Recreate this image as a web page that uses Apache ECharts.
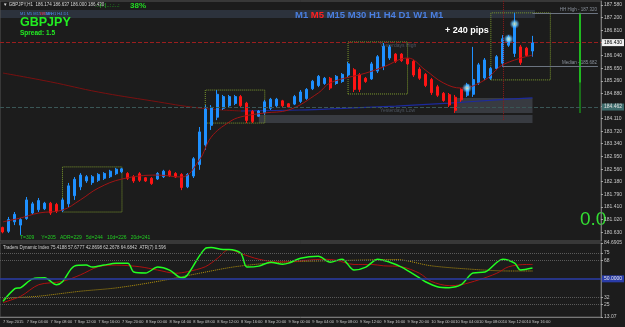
<!DOCTYPE html>
<html>
<head>
<meta charset="utf-8">
<script src="https://cdn.jsdelivr.net/npm/echarts@6/dist/echarts.min.js"></script>
<style>
  html, body { margin: 0; padding: 0; background: #1c1c1c; }
  #chart { width: 625px; height: 327px; }
</style>
</head>
<body>
<div id="chart"></div>
<script>
// GBPJPY H1, 7 Sep 00:00 .. 10 Sep 17:00
const opens = [180.78,180.66,180.95,180.85,181.05,181.22,181.32,181.35,181.52,181.48,
  181.30,181.50,181.75,182.02,182.20,182.15,182.22,182.28,182.33,182.42,
  182.48,182.43,182.33,182.42,182.30,182.28,182.26,182.33,182.50,182.43,
  182.40,182.02,182.35,182.70,183.30,183.90,184.15,184.42,184.50,184.57,
  184.78,184.58,184.33,184.18,184.28,184.42,184.50,184.65,184.56,184.55,
  184.63,184.72,185.02,185.12,185.18,185.34,185.18,185.24,185.44,185.60,
  185.45,185.34,185.32,185.56,185.70,185.96,186.08,186.08,185.94,185.86,
  185.62,185.46,185.30,185.08,184.88,184.84,184.76,185.00,184.82,184.85,
  185.20,185.35,185.34,185.64,185.80,186.35,186.10,186.30,186.26,186.174];
const highs = [180.80,181.10,181.25,181.07,181.71,181.56,181.68,181.56,181.56,181.53,
  181.68,182.14,182.32,182.44,182.38,182.38,182.44,182.47,182.54,182.60,
  182.60,182.47,182.38,182.47,182.32,182.32,182.47,182.54,182.54,182.47,
  182.44,182.44,182.93,183.85,184.52,184.52,184.98,184.83,184.83,184.83,
  184.83,184.62,184.37,184.37,184.68,184.74,184.74,184.68,184.58,184.83,
  184.98,185.04,185.29,185.44,185.38,185.38,185.44,185.50,185.84,185.65,
  185.50,185.38,185.84,186.05,186.42,186.36,186.11,186.11,185.96,185.90,
  185.68,185.50,185.35,185.14,184.92,184.89,184.83,185.04,185.20,186.30,
  185.81,185.96,185.69,186.05,186.66,186.66,187.34,186.36,186.30,186.637];
const lows = [180.60,180.61,180.85,180.55,181.01,181.16,181.25,181.31,181.16,181.22,
  181.25,181.40,181.62,181.92,182.14,182.08,182.17,182.23,182.29,182.38,
  182.44,182.23,182.14,182.17,182.17,182.08,182.23,182.29,182.32,182.29,
  181.92,181.98,182.29,182.54,183.15,183.76,184.06,184.37,184.46,184.52,
  184.46,183.97,183.97,184.16,184.22,184.37,184.46,184.46,184.43,184.52,
  184.58,184.68,184.98,185.07,185.14,184.98,185.14,185.20,185.38,184.92,
  184.92,185.20,185.29,185.50,185.59,185.90,185.81,185.84,185.75,185.38,
  185.29,185.07,184.83,184.77,184.62,184.46,184.28,184.62,184.77,184.77,
  185.14,185.29,185.29,185.59,185.69,186.30,185.99,185.75,185.99,186.000];
const closes = [180.64,181.02,181.18,181.02,181.62,181.50,181.60,181.52,181.22,181.28,
  181.62,182.05,182.25,182.38,182.33,182.33,182.40,182.43,182.50,182.56,
  182.57,182.28,182.20,182.22,182.20,182.12,182.43,182.50,182.36,182.32,
  182.00,182.40,182.88,183.70,184.40,184.45,184.85,184.78,184.78,184.78,
  184.50,184.05,184.02,184.34,184.62,184.70,184.70,184.50,184.46,184.78,
  184.92,185.00,185.25,185.40,185.34,185.04,185.40,185.46,185.78,185.00,
  185.00,185.24,185.78,186.00,186.32,186.30,185.86,185.88,185.78,185.44,
  185.34,185.12,184.90,184.82,184.66,184.52,184.36,184.68,185.14,185.30,
  185.75,185.90,185.64,186.00,186.55,186.60,186.95,185.82,186.04,186.430];

// moving averages: [bar index, price]
const maFast = [[0,180.95],[3,181.07],[6,181.22],[10,181.31],[13,181.62],[16,181.98],[20,182.26],
  [26,182.38],[30,182.32],[33,182.84],[35,183.54],[38,184.00],[40,184.16],[44,184.28],[48,184.37],
  [53,184.89],[55,185.20],[61,185.50],[64,185.69],[68,185.96],[71,185.59],[74,185.20],[77,185.04],
  [81,185.29],[84,185.75],[89,186.05]];
const maSlowDown = [[0,185.50],[8,185.23],[16,184.92],[25,184.65],[33,184.43],[40,184.34]];
const maSlowUp = [[40,184.34],[50,184.37],[58,184.43],[66,184.49],[75,184.58],[83,184.68],[89,184.74]];

// Traders Dynamic Index lines: [bar index, value]
const tdiPrice = [[0,28.2],[2,40.5],[3,41.5],[5,50],[7,51],[9,44.3],[10,47.2],[12,62.3],[14,63.3],
  [15,61.4],[17,63.3],[19,65.2],[21,65.2],[22,56.6],[24,55.7],[26,61.4],[28,58.5],[30,51],[31,53.8],
  [34,79.4],[35,80.3],[37,78.4],[38,78.4],[40,74.6],[41,61.4],[43,62.3],[45,66.1],[47,64.2],[48,65.2],
  [50,69.9],[53,71.8],[55,66.1],[57,69],[59,58.5],[61,61.4],[63,69],[65,66.1],[67,61.4],[70,51],
  [71,47.2],[73,42.4],[75,41.5],[77,44.3],[79,55.7],[81,56.6],[84,69],[86,65.2],[87,58.5],[89,60.4]];
const tdiSignal = [[0,27],[3,33.2],[6,44.3],[10,47.5],[13,53.8],[16,61.7],[19,63.3],[23,61.7],[26,58.5],
  [29,55.4],[31,56.9],[34,61.7],[36,69.6],[38,78.4],[40,74.4],[43,69],[46,66.4],[48,66.4],[51,68],
  [54,69],[56,68],[59,63.9],[62,63.9],[64,62.6],[67,61.7],[70,55.4],[72,47.5],[75,43.4],[77,44.3],
  [80,49.1],[83,55.4],[85,61.7],[88,63.9],[89,63.9]];
const tdiBase = [[0,30.5],[2,31.7],[6,33.2],[13,38],[19,41.2],[26,47.5],[33,55.4],[39,61.7],[46,65.8],
  [52,67.1],[59,68],[66,68.7],[72,62.6],[79,59.2],[85,57.6],[89,57.6]];

const priceTicks = [180.630,181.020,181.410,181.790,182.180,182.560,182.950,183.340,183.720,184.110,
  184.490,184.880,185.260,185.650,186.040,186.430,186.810,187.200,187.580];
const tdiTicks = [13.07, 25, 32, 68, 75, 84.69];
const tdiTickLabels = ['13.07', '25', '32', '68', '75', '84.6905'];
const xTickLabels = ['7 Sep 2015','7 Sep 04:00','7 Sep 08:00','7 Sep 12:00','7 Sep 16:00','7 Sep 20:00',
  '8 Sep 00:00','8 Sep 04:00','8 Sep 08:00','8 Sep 12:00','8 Sep 16:00','8 Sep 20:00',
  '9 Sep 00:00','9 Sep 04:00','9 Sep 08:00','9 Sep 12:00','9 Sep 16:00','9 Sep 20:00',
  '10 Sep 00:00','10 Sep 04:00','10 Sep 08:00','10 Sep 12:00','10 Sep 16:00'];

// hourly slots, 90 bars plus empty space on the right
const slots = 101;
const categories = [];
for (let i = 0; i < slots; i++) {
  const h = i % 24;
  categories.push((7 + Math.floor(i / 24)) + ' Sep ' + (h < 10 ? '0' : '') + h + ':00');
}
const ohlc = opens.map((o, i) => [o, closes[i], lows[i], highs[i]]);

const chart = echarts.init(document.getElementById('chart'));
const dotBox = { color: 'transparent', borderColor: '#7d9a2e', borderWidth: 1, borderType: 'dotted' };
const tiny = { fontSize: 5, color: '#c8c8c8', fontFamily: 'Liberation Sans' };

chart.setOption({
  backgroundColor: '#1c1c1c',
  animation: false,
  grid: [
    { left: 0, top: 1, width: 607, height: 240, show: true, borderColor: '#555', borderWidth: 1 },
    { left: 0, top: 243, width: 607, height: 74, show: true, borderColor: '#555', borderWidth: 1 }
  ],
  xAxis: [
    { type: 'category', gridIndex: 0, data: categories, axisLabel: { show: false },
      axisTick: { show: false }, axisLine: { show: false } },
    { type: 'category', gridIndex: 1, data: categories, position: 'bottom',
      axisLine: { lineStyle: { color: '#777' } },
      axisTick: { interval: 3, alignWithLabel: true, length: 3, lineStyle: { color: '#aaa' } },
      axisLabel: { interval: 3, align: 'left', margin: 3, fontSize: 4, color: '#c8c8c8',
        fontFamily: 'Liberation Sans', formatter: (v, idx) => xTickLabels[idx / 4] || '' } }
  ],
  yAxis: [
    { type: 'value', gridIndex: 0, position: 'right', min: 180.364, max: 187.703,
      splitLine: { show: false },
      axisLine: { show: true, lineStyle: { color: '#777' } },
      axisTick: { show: true, length: 2, customValues: priceTicks, lineStyle: { color: '#aaa' } },
      axisLabel: Object.assign({ margin: 3, customValues: priceTicks, formatter: v => v.toFixed(3) }, tiny) },
    { type: 'value', gridIndex: 1, position: 'right', min: 13.07, max: 84.69,
      splitLine: { show: false },
      axisLine: { show: true, lineStyle: { color: '#777' } },
      axisTick: { show: true, length: 2, customValues: tdiTicks, lineStyle: { color: '#aaa' } },
      axisLabel: Object.assign({ margin: 3, customValues: tdiTicks,
        formatter: v => tdiTickLabels[tdiTicks.indexOf(v)] || '' }, tiny) }
  ],
  series: [
    { // support zones and vertical markers
      type: 'line', xAxisIndex: 0, yAxisIndex: 0, data: [], z: 1,
      markArea: { silent: true, itemStyle: { color: 'rgba(80,86,96,0.55)' },
        data: [
          [{ xAxis: 43, yAxis: 183.97 }, { xAxis: 89, yAxis: 184.22 }],
          [{ xAxis: 76, yAxis: 184.28 }, { xAxis: 89, yAxis: 184.74 }]
        ] },
      markLine: { silent: true, symbol: ['none', 'none'], label: { show: false },
        data: [
          [{ coord: [84, 187.70], lineStyle: { color: '#8b1a1a', type: 'dotted', width: 1 } },
           { coord: [84, 184.06] }],
          [{ coord: [96.7, 187.34], lineStyle: { color: '#22ee22', type: 'solid', width: 1.5 } },
           { coord: [96.7, 185.20] }],
          [{ coord: [96.7, 185.20], lineStyle: { color: '#1a8a1a', type: 'solid', width: 1.5 } },
           { coord: [96.7, 184.28] }]
        ] }
    },
    {
      type: 'candlestick', xAxisIndex: 0, yAxisIndex: 0, data: ohlc, barWidth: 2.5, z: 3,
      itemStyle: { color: '#1e90ff', color0: '#ff1414', borderColor: '#1e90ff', borderColor0: '#ff1414', borderWidth: 1 },
      markArea: { silent: true, itemStyle: dotBox,
        data: [
          [{ xAxis: 10, yAxis: 181.25 }, { xAxis: 20, yAxis: 182.63 }],
          [{ xAxis: 34, yAxis: 183.97 }, { xAxis: 44, yAxis: 184.98 }],
          [{ xAxis: 58, yAxis: 184.86 }, { xAxis: 68, yAxis: 186.45 }],
          [{ xAxis: 82, yAxis: 185.29 }, { xAxis: 92, yAxis: 187.34 }]
        ] },
      markLine: { silent: true, symbol: ['none', 'none'],
        data: [
          { yAxis: 186.43, lineStyle: { color: '#9a1e1e', type: 'dashed', width: 1 },
            label: { position: 'end', distance: 1, formatter: '186.430', backgroundColor: '#f0f0f0',
              color: '#000', fontSize: 5, padding: [1, 2] } },
          { yAxis: 184.462, lineStyle: { color: '#3a5656', type: 'dashed', width: 1 },
            label: { position: 'end', distance: 1, formatter: '184.462', backgroundColor: '#3d6b6b',
              color: '#e0e0e0', fontSize: 5, padding: [1, 2] } },
          [{ coord: [89, 187.336], lineStyle: { color: '#6c7480', type: 'solid', width: 1 },
             label: { position: 'insideEndTop', formatter: 'HH High - 187.320', color: '#8a919c', fontSize: 4.5, distance: 1 } },
           { coord: [100, 187.336] }],
          [{ coord: [84, 185.716], lineStyle: { color: '#6c7480', type: 'solid', width: 1 },
             label: { position: 'insideEndTop', formatter: 'Median - 185.682', color: '#8a919c', fontSize: 4.5, distance: 1 } },
           { coord: [100, 185.716] }]
        ] }
    },
    { type: 'line', xAxisIndex: 0, yAxisIndex: 0, data: maFast, smooth: 0.4, symbol: 'none', z: 4,
      lineStyle: { color: '#a01414', width: 1 } },
    { type: 'line', xAxisIndex: 0, yAxisIndex: 0, data: maSlowDown, smooth: 0.4, symbol: 'none', z: 2,
      lineStyle: { color: '#7a1010', width: 1 } },
    { type: 'line', xAxisIndex: 0, yAxisIndex: 0, data: maSlowUp, smooth: 0.4, symbol: 'none', z: 2,
      lineStyle: { color: '#1c2a9e', width: 1.2 } },
    { type: 'scatter', xAxisIndex: 0, yAxisIndex: 0, symbolSize: 10, z: 6,
      data: [[86, 187.00], [85, 186.54], [78, 185.04]],
      itemStyle: { color: { type: 'radial', x: 0.5, y: 0.5, r: 0.5,
        colorStops: [{ offset: 0, color: '#ffffc0' }, { offset: 0.45, color: '#70d0ff' },
                     { offset: 1, color: 'rgba(60,150,255,0.05)' }] } } },
    // TDI pane
    { type: 'line', xAxisIndex: 1, yAxisIndex: 1, data: tdiBase, smooth: 0.3, symbol: 'none',
      lineStyle: { color: '#b8960c', width: 1, type: 'dotted' },
      markLine: { silent: true, symbol: ['none', 'none'],
        data: [
          { yAxis: 75, lineStyle: { color: '#5a5a5a', type: 'dotted', width: 1 }, label: { show: false } },
          { yAxis: 68, lineStyle: { color: '#5a5a5a', type: 'dotted', width: 1 }, label: { show: false } },
          { yAxis: 32, lineStyle: { color: '#5a5a5a', type: 'dotted', width: 1 }, label: { show: false } },
          { yAxis: 25, lineStyle: { color: '#5a5a5a', type: 'dotted', width: 1 }, label: { show: false } },
          { yAxis: 50, lineStyle: { color: '#2a3ca8', type: 'solid', width: 1.5 },
            label: { position: 'end', distance: 1, formatter: '50.0000', backgroundColor: '#2a3ca8',
              color: '#e8e8e8', fontSize: 5, padding: [1, 2] } }
        ] } },
    { type: 'line', xAxisIndex: 1, yAxisIndex: 1, data: tdiSignal, smooth: 0.3, symbol: 'none',
      lineStyle: { color: '#b01010', width: 1 } },
    { type: 'line', xAxisIndex: 1, yAxisIndex: 1, data: tdiPrice, smooth: 0.3, symbol: 'none',
      lineStyle: { color: '#22ff22', width: 1.5 } }
  ],
  graphic: [
    { type: 'rect', shape: { x: 0, y: 10, width: 535, height: 8 }, style: { fill: '#2c323c' }, z: -1 },
    { type: 'text', x: 3, y: 2, style: { text: '▼ GBPJPY,H1  186.174 186.637 186.000 186.430', fill: '#d8d8d8', fontSize: 4.5, fontFamily: 'Liberation Sans' } },
    { type: 'text', x: 95, y: 2, style: { text: '.:.|.:|..:.:..:', fill: '#22cc22', fontSize: 6, fontFamily: 'Liberation Sans' } },
    { type: 'text', x: 130, y: 2, style: { text: '38%', fill: '#22dd22', fontSize: 8, fontWeight: 'bold', fontFamily: 'Liberation Sans' } },
    { type: 'text', x: 20, y: 12, style: { text: 'M1 M5 M15 M30 H1 H4 D1', fill: '#4a86e8', fontSize: 4, fontFamily: 'Liberation Sans' } },
    { type: 'text', x: 40, y: 12, style: { text: 'W1', fill: '#ff2020', fontSize: 4, fontFamily: 'Liberation Sans' } },
    { type: 'text', x: 46, y: 12, style: { text: 'MN', fill: '#4a86e8', fontSize: 4, fontFamily: 'Liberation Sans' } },
    { type: 'text', x: 295, y: 10, style: { rich: { b: { fill: '#4a7fe0', fontSize: 9.5, fontWeight: 'bold', fontFamily: 'Liberation Sans' },
        r: { fill: '#ff2020', fontSize: 9.5, fontWeight: 'bold', fontFamily: 'Liberation Sans' } },
        text: '{b|M1 }{r|M5}{b| M15 M30 H1 H4 D1 W1 M1}' } },
    { type: 'text', x: 20, y: 16, style: { text: 'GBPJPY', fill: '#22ee22', fontSize: 12.5, fontWeight: 'bold', fontFamily: 'Liberation Sans' } },
    { type: 'text', x: 20, y: 30, style: { text: 'Spread: 1.5', fill: '#22ee22', fontSize: 6.5, fontWeight: 'bold', fontFamily: 'Liberation Sans' } },
    { type: 'text', x: 445, y: 26, style: { text: '+ 240 pips', fill: '#ffffff', fontSize: 9, fontWeight: 'bold', fontFamily: 'Liberation Sans' } },
    { type: 'text', x: 380, y: 43, style: { text: 'Yesterdays High', fill: '#4d5560', fontSize: 5, fontFamily: 'Liberation Sans' } },
    { type: 'text', x: 380, y: 108, style: { text: 'Yesterdays Low', fill: '#4d5560', fontSize: 5, fontFamily: 'Liberation Sans' } },
    { type: 'text', x: 580, y: 210, style: { text: '0.0', fill: '#33dd33', fontSize: 19, fontFamily: 'Liberation Sans' } },
    { type: 'text', x: 20, y: 235, style: { text: 'T=309     Y=205   ADR=229   5d=244   10d=226   20d=241', fill: '#22cc22', fontSize: 5, fontFamily: 'Liberation Sans' } },
    { type: 'text', x: 3, y: 245, style: { text: 'Traders Dynamic Index 75.4188 57.6777 42.8698 62.2678 64.6842  ATR(7) 0.596', fill: '#d0d0d0', fontSize: 4.5, fontFamily: 'Liberation Sans' } }
  ]
});
</script>
</body>
</html>
